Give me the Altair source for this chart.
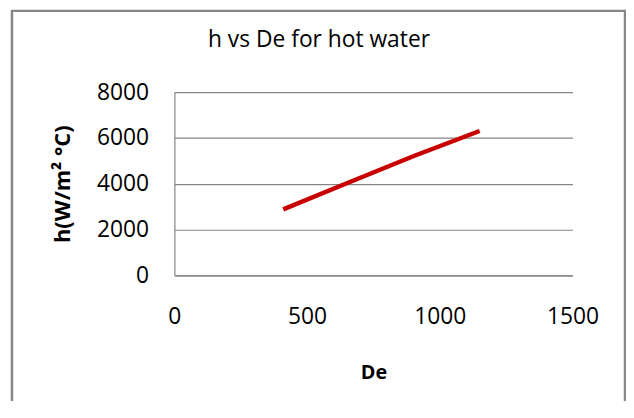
import altair as alt
import pandas as pd

# Data
de_values = [410, 645, 907, 1150]
h_values = [2880, 4000, 5230, 6300]
x_ticks = [0, 500, 1000, 1500]
y_ticks = [0, 2000, 4000, 6000, 8000]

df = pd.DataFrame({"De": de_values, "h": h_values})
frame_df = pd.DataFrame({"k": [0]})

FONT = "Open Sans"
GRAY = "#868686"

frame = alt.Chart(frame_df).mark_rect(
    filled=False, stroke=GRAY, strokeWidth=2.5
).encode(
    x=alt.value(-164), x2=alt.value(455), y=alt.value(-82), y2=alt.value(400)
)

line = alt.Chart(df).mark_line(color="#C80000", strokeWidth=4.5).encode(
    x=alt.X(
        "De:Q",
        scale=alt.Scale(domain=[0, 1500], nice=False, zero=False),
        axis=alt.Axis(
            values=x_ticks, title="De", format="d", grid=False, ticks=False, tickSize=0,
            labelFlush=False, labelPadding=31, titleX=201, titleY=98,
            titleAlign="center", titleBaseline="middle",
        ),
    ),
    y=alt.Y(
        "h:Q",
        scale=alt.Scale(domain=[0, 8000], nice=False),
        axis=alt.Axis(
            values=y_ticks, title="h(W/m² °C)", format="d", grid=True, ticks=False, tickSize=0,
            labelFlush=False, labelPadding=26, titleX=-113, titleY=92.5, titleAngle=270,
            titleAlign="center", titleBaseline="middle", titleFontSize=22,
        ),
    ),
)

chart = alt.layer(frame, line).properties(
    width=402,
    height=185,
    title=alt.TitleParams(
        "h vs De for hot water", font=FONT, fontSize=23, fontWeight="normal",
        color="#000000", anchor="middle", frame="group", dx=-55, offset=0, dy=61,
        baseline="alphabetic",
    ),
    padding={"left": 168, "top": 83, "right": 54, "bottom": 125},
    autosize=alt.AutoSizeParams(type="none"),
    background="white",
).configure_view(stroke=None).configure_axis(
    labelFont=FONT, labelFontSize=23, labelColor="#000000",
    titleFont=FONT, titleFontSize=20, titleFontWeight="bold", titleColor="#000000",
    domainColor=GRAY, gridColor=GRAY, domainWidth=1.2, gridWidth=1.2,
)

chart.save("out.html", embed_options={"renderer": "svg", "actions": False})
